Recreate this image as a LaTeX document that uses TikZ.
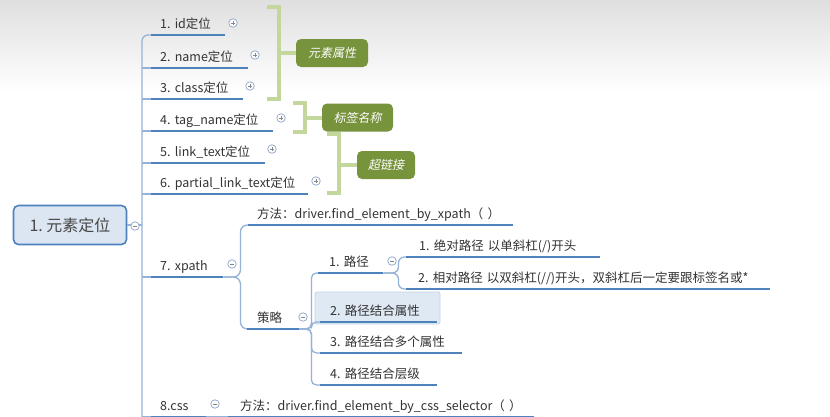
\documentclass[tikz,border=0pt]{standalone}
\usepackage{fontspec}
\setmainfont{Noto Sans CJK SC}
\newfontfamily\slantfont[FakeSlant=0.2]{Noto Sans CJK SC}
\usetikzlibrary{positioning}
\frenchspacing
\definecolor{ink}{RGB}{51,51,51}
\definecolor{lineblue}{RGB}{79,129,189}
\definecolor{linkblue}{RGB}{149,179,215}
\definecolor{knobblue}{RGB}{150,172,205}
\definecolor{rootfill}{RGB}{220,230,242}
\definecolor{bracegreen}{RGB}{195,214,155}
\definecolor{tagfill}{RGB}{119,147,60}
\definecolor{topgray}{RGB}{222,223,222}
\definecolor{hoverfill}{RGB}{222,233,244}
\definecolor{hoverline}{RGB}{196,212,232}

\tikzset{
  topic/.style={anchor=south west, text width=#1, align=left, inner xsep=9pt, inner ysep=6.5pt,
    text depth=0pt, text=ink, font=\fontsize{12.5}{15}\selectfont},
  rootbox/.style={draw=lineblue, line width=1.6pt, fill=rootfill, rounded corners=5pt,
    minimum width=113pt, minimum height=39pt, text=ink!90, font=\fontsize{16}{19}\selectfont},
  uline/.style={lineblue, line width=2.6pt},
  link/.style={linkblue, line width=1.3pt},
  knob/.style={circle, draw=knobblue, line width=0.8pt, fill=white, minimum size=8.5pt, inner sep=0pt},
  knobminus/.style={knob, path picture={
    \draw[ink!60, line width=0.7pt] ([xshift=-2.2pt]path picture bounding box.center)
      -- ([xshift=2.2pt]path picture bounding box.center);}},
  knobplus/.style={knob, path picture={
    \draw[ink!60, line width=0.7pt] ([xshift=-2.2pt]path picture bounding box.center)
      -- ([xshift=2.2pt]path picture bounding box.center)
      ([yshift=-2.2pt]path picture bounding box.center)
      -- ([yshift=2.2pt]path picture bounding box.center);}},
  bracebar/.style={bracegreen, line width=4pt},
  tagbox/.style={fill=tagfill, rounded corners=5pt, text=white, minimum height=28pt,
    inner xsep=6pt, font=\slantfont\fontsize{12}{14}\selectfont},
  hoverbox/.style={fill=hoverfill, draw=hoverline, line width=0.8pt, rounded corners=2pt}
}

\begin{document}
\begin{tikzpicture}[x=1pt, y=-1pt]
\useasboundingbox (0,0) rectangle (830,416);
\fill[white] (0,0) rectangle (830,416);
\fill[top color=topgray, bottom color=white] (0,0) rectangle (830,92);

\node[rootbox] (root) at (70,225) {1. 元素定位};

\node[topic=56pt] (id) at (151,35) {1.~id定位};
\node[topic=79pt] (name) at (151,68) {2.~name定位};
\node[topic=74pt] (class) at (151,99) {3.~class定位};
\node[topic=104pt] (tagname) at (151,131) {4.~tag\_name定位};
\node[topic=96pt] (linktext) at (151,163) {5.~link\_text定位};
\node[topic=139pt] (partial) at (151,194) {6.~partial\_link\_text定位};
\node[topic=54pt] (xpath) at (151,277) {7.~xpath};
\node[topic=37pt] (css) at (151,417) {8.css};

\node[topic=247pt] (method) at (248,225) {方法：driver.find\_element\_by\_xpath（~）};
\node[topic=32pt, inner xsep=10pt] (celue) at (247,329) {策略};
\node[topic=43pt, inner xsep=11pt] (lujing) at (318,273) {1.~路径};
\node[topic=168pt, inner xsep=13pt] (jd) at (406,257) {1.~绝对路径~以单斜杠(/)开头};
\node[topic=340pt, inner xsep=12pt] (xd) at (406,289) {2.~相对路径~以双斜杠(//)开头，双斜杠后一定要跟标签名或*};
\draw[hoverbox] (315,292) rectangle (440,324);
\node[topic=97pt, inner xsep=10pt] (attr) at (320,322) {2.~路径结合属性};
\node[topic=122pt, inner xsep=10pt] (multi) at (320,353) {3.~路径结合多个属性};
\node[topic=97pt, inner xsep=10pt] (level) at (320,385) {4.~路径结合层级};
\node[topic=282pt, inner xsep=12pt] (cssm) at (228,417) {方法：driver.find\_element\_by\_css\_selector（~）};

\coordinate (trunkend) at (142,420);
\draw[link, rounded corners=6pt] (id.south west) -| (trunkend);
\foreach \n in {name,class,tagname,linktext,partial,xpath,css}
  \draw[link] (\n.south west) -- (\n.south west -| trunkend);
\draw[link] (root.east) -- (root.east -| trunkend);

\draw[link, rounded corners=7pt] (xpath.south east) -- ++(17,0) |- (method.south west);
\draw[link, rounded corners=7pt] (xpath.south east) -- ++(17,0) |- (celue.south west);
\foreach \n in {lujing,attr,multi,level}
  \draw[link, rounded corners=5pt] (celue.south east) -- ++(12,0) |- (\n.south west);
\foreach \n in {jd,xd}
  \draw[link, rounded corners=6pt] (lujing.south east) -- ++(15,0) |- (\n.south west);
\draw[link] (css.south east) -- (cssm.south west);

\foreach \n in {id,name,class,tagname,linktext,partial,xpath,css,method,celue,lujing,jd,xd,attr,multi,level,cssm}
  \draw[uline] (\n.south west) -- (\n.south east);

\node[knobminus] (rootk) at (135,226) {};
\node[knobplus] (idk) at (233,23) {};
\node[knobplus] (namek) at (255,55) {};
\node[knobplus] (classk) at (250,86) {};
\node[knobplus] (tagnamek) at (281,118) {};
\node[knobplus] (linktextk) at (272,149) {};
\node[knobplus] (partialk) at (316,181) {};
\node[knobminus] (xpathk) at (232,264) {};
\node[knobminus] (celuek) at (303,317) {};
\node[knobminus] (lujingk) at (392,261) {};
\node[knobminus] (cssk) at (215,404) {};

\draw[bracebar] (267,7) -| (279,99) -- (267,99);
\node[tagbox, minimum width=72pt] (attrtag) at (332,53) {元素属性};
\draw[bracebar] (attrtag.west) -- ++(-17,0);
\draw[bracebar] (293,103) -| (305,132) -- (293,132);
\node[tagbox, minimum width=71pt] (tagtag) at (357.5,117.5) {标签名称};
\draw[bracebar] (tagtag.west) -- ++(-17,0);
\draw[bracebar] (327,134) -| (339,193) -- (327,193);
\node[tagbox, minimum width=58pt] (linktag) at (386,165) {超链接};
\draw[bracebar] (linktag.west) -- ++(-18,0);
\end{tikzpicture}
\end{document}
